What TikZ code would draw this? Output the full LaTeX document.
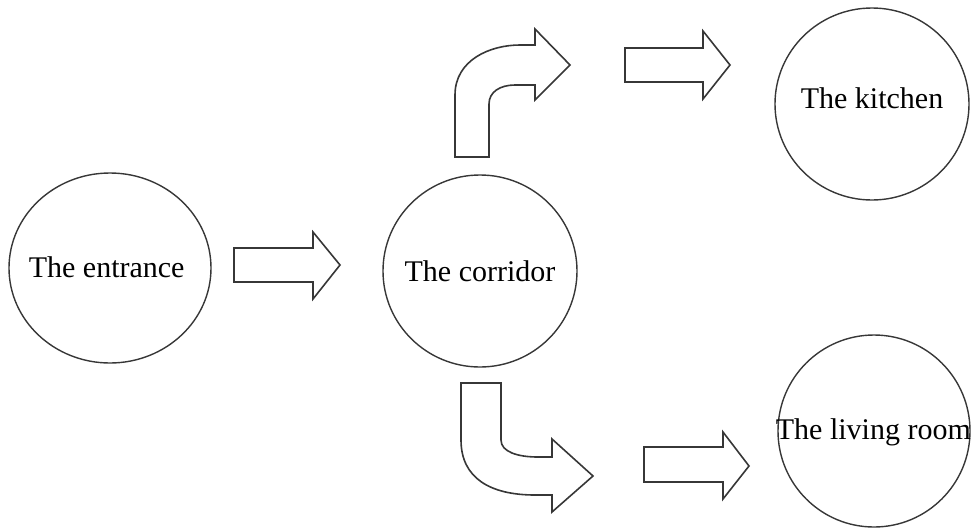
\documentclass[tikz,border=0pt]{standalone}
\usepackage{fontspec}
\setmainfont{Liberation Serif}
\usepackage{tikz}
\usetikzlibrary{shapes.geometric}
\definecolor{outline}{RGB}{55, 55, 55}

\begin{document}
\begin{tikzpicture}[x=0.75pt, y=-0.75pt,
  room/.style    = {ellipse, draw=outline, line width=1.05pt, inner sep=0pt},
  roomtxt/.style = {font=\fontsize{22.5}{27}\selectfont, inner sep=0pt},
  blockarrow/.style = {draw=outline, fill=white, line width=1.2pt, line join=miter}
]
  \useasboundingbox (0,0) rectangle (971,529);

  % ---- Rooms ----
  \node[room, minimum width=151.5pt, minimum height=142.5pt] at (110,268) (entrance) {};
  \node[room, minimum width=145.5pt, minimum height=144pt]   at (480,271) (corridor) {};
  \node[room, minimum width=145.5pt, minimum height=144pt]   at (872,104) (kitchen)  {};
  \node[room, minimum width=144pt,   minimum height=144pt]   at (874,431) (living)   {};

  % ---- Room names ----
  \node[roomtxt] at ([xshift=-2.5pt, yshift=0.5pt]entrance.center) (entranceTxt) {The entrance};
  \node[roomtxt] at (corridor.center) (corridorTxt) {The corridor};
  \node[roomtxt] at ([yshift=4pt]kitchen.center) (kitchenTxt) {The kitchen};
  \node[roomtxt] at ([xshift=-0.5pt, yshift=-1pt]living.center) (livingTxt) {The living room};

  % ---- Straight arrows ----
  \draw[blockarrow] (234,248) -- (313,248) -- (313,232) -- (340,265)
                    -- (313,299) -- (313,282) -- (234,282) -- cycle;
  \draw[blockarrow] (625,48) -- (703,48) -- (703,31) -- (730,65)
                    -- (703,99) -- (703,82) -- (625,82) -- cycle;
  \draw[blockarrow] (644,447) -- (723,447) -- (723,432) -- (749,466)
                    -- (723,499) -- (723,482) -- (644,482) -- cycle;

  % ---- Bent arrows out of the corridor ----
  \draw[blockarrow] (455,157) -- (455,95) .. controls (455,60) and (490,45) .. (520,45)
                    -- (535,45) -- (535,29) -- (570,65) -- (535,100) -- (535,85)
                    -- (515,85) .. controls (500,85) and (489,92) .. (489,104)
                    -- (489,157) -- cycle;
  \draw[blockarrow] (461,383) -- (501,383) -- (501,440)
                    .. controls (501,452) and (518,457) .. (538,457)
                    -- (552,457) -- (552,439) -- (593,476) -- (552,512) -- (552,495)
                    -- (535,495) .. controls (490,495) and (461,478) .. (461,440) -- cycle;
\end{tikzpicture}
\end{document}
